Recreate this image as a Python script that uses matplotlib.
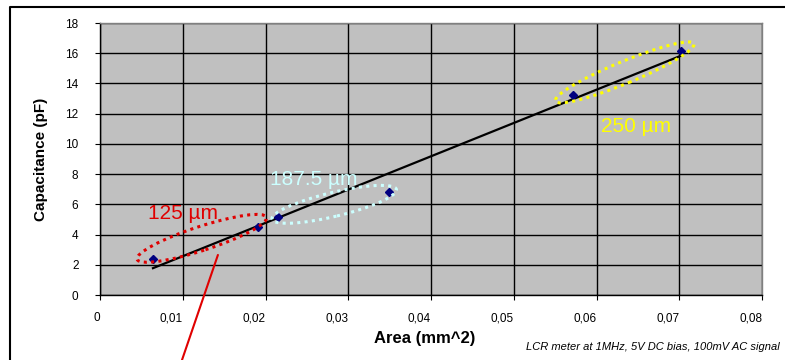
import matplotlib
matplotlib.use("Agg")
import matplotlib.pyplot as plt
import numpy as np
from matplotlib.patches import Ellipse
from matplotlib.lines import Line2D
from matplotlib.transforms import ScaledTranslation

plt.rcParams['font.family'] = ['Liberation Sans', 'DejaVu Sans']

# ---- data ----
area = [0.0064, 0.0191, 0.0215, 0.0349, 0.0572, 0.0702]
capacitance = [2.38, 4.52, 5.19, 6.82, 13.24, 16.16]
x_ticks = [0, 0.01, 0.02, 0.03, 0.04, 0.05, 0.06, 0.07, 0.08]
x_tick_labels = ['0', '0,01', '0,02', '0,03', '0,04', '0,05', '0,06', '0,07', '0,08']
y_ticks = [0, 2, 4, 6, 8, 10, 12, 14, 16, 18]
y_tick_labels = ['0', '2', '4', '6', '8', '10', '12', '14', '16', '18']
groups = ['125 µm', '187.5 µm', '250 µm']
group_colors = ['#e00000', '#ccffff', '#ffff00']

W, H = 785, 360
fig = plt.figure(figsize=(W / 100, H / 100), dpi=100)
fig.patch.set_facecolor('white')
ax = fig.add_axes([100 / W, (H - 295) / H, 662 / W, 272 / H])
ax.set_facecolor('#c0c0c0')
ax.set_xlim(0, 0.08)
ax.set_ylim(0, 18)

ax.set_xticks(x_ticks)
ax.set_xticklabels(x_tick_labels, ha='right')
ax.set_yticks(y_ticks)
ax.set_yticklabels(y_tick_labels)
ax.tick_params(axis='both', direction='out', length=3.5, width=0.8, colors='black', labelsize=8.5)
ax.tick_params(axis='y', pad=12)
ax.tick_params(axis='x', pad=9)
ax.grid(True, color='black', linewidth=1.0)
ax.set_axisbelow(True)
for s in ['left', 'bottom']:
    ax.spines[s].set_color('black')
    ax.spines[s].set_linewidth(1.0)
for s in ['top', 'right']:
    ax.spines[s].set_color('#808080')
    ax.spines[s].set_linewidth(1.0)

# linear trend line
coef = np.polyfit(area, capacitance, 1)
xs = np.array([min(area), max(area)])
ax.plot(xs, np.polyval(coef, xs), color='black', linewidth=1.6, zorder=3)

# data points
ax.plot(area, capacitance, linestyle='none', marker='D', markersize=4.5,
        color='#000080', zorder=4)

# dotted ellipses (center in data units, semi-axes in pixels)
ellipses = [((0.0123, 3.75), 68, 12, 18),
            ((0.0283, 6.0), 64, 12, 13.5),
            ((0.0634, 14.73), 75, 11, 22.5)]
for (c, a, b, ang), col in zip(ellipses, group_colors):
    e = Ellipse((0, 0), 2 * a, 2 * b, angle=ang, fill=False, edgecolor=col,
                linewidth=2.2, linestyle=(0, (1, 1.4)),
                transform=ScaledTranslation(c[0], c[1], ax.transData), zorder=5)
    ax.add_artist(e)

# group labels
label_pos = [(0.0058, 5.03), (0.0206, 7.28), (0.0605, 10.81)]
for (x, y), txt, col in zip(label_pos, groups, group_colors):
    ax.text(x, y, txt, color=col, fontsize=15, ha='left', va='baseline', zorder=6)

# red pointer line
ax.annotate('', xy=(0.01425, 2.65), xycoords='data',
            xytext=(182 / W, 0), textcoords='figure fraction',
            arrowprops=dict(arrowstyle='-', color='#e00000', linewidth=1.5,
                            shrinkA=0, shrinkB=0),
            annotation_clip=False)

# axis labels and note
fig.text(40.7 / W, 1 - 159 / H, 'Capacitance (pF)', rotation=90, ha='center',
         va='center', fontsize=11, fontweight='bold')
fig.text(425 / W, 1 - 339 / H, 'Area (mm^2)', ha='center', va='center',
         fontsize=12, fontweight='bold')
fig.text(526 / W, 1 - 347 / H, 'LCR meter at 1MHz, 5V DC bias, 100mV AC signal',
         ha='left', va='center', fontsize=8, style='italic')

# outer frame
fig.add_artist(Line2D([10 / W, 10 / W, 1], [0, 1 - 7 / H, 1 - 7 / H],
                      transform=fig.transFigure, color='black', linewidth=1.5))

fig.savefig('out.png', dpi=100)
